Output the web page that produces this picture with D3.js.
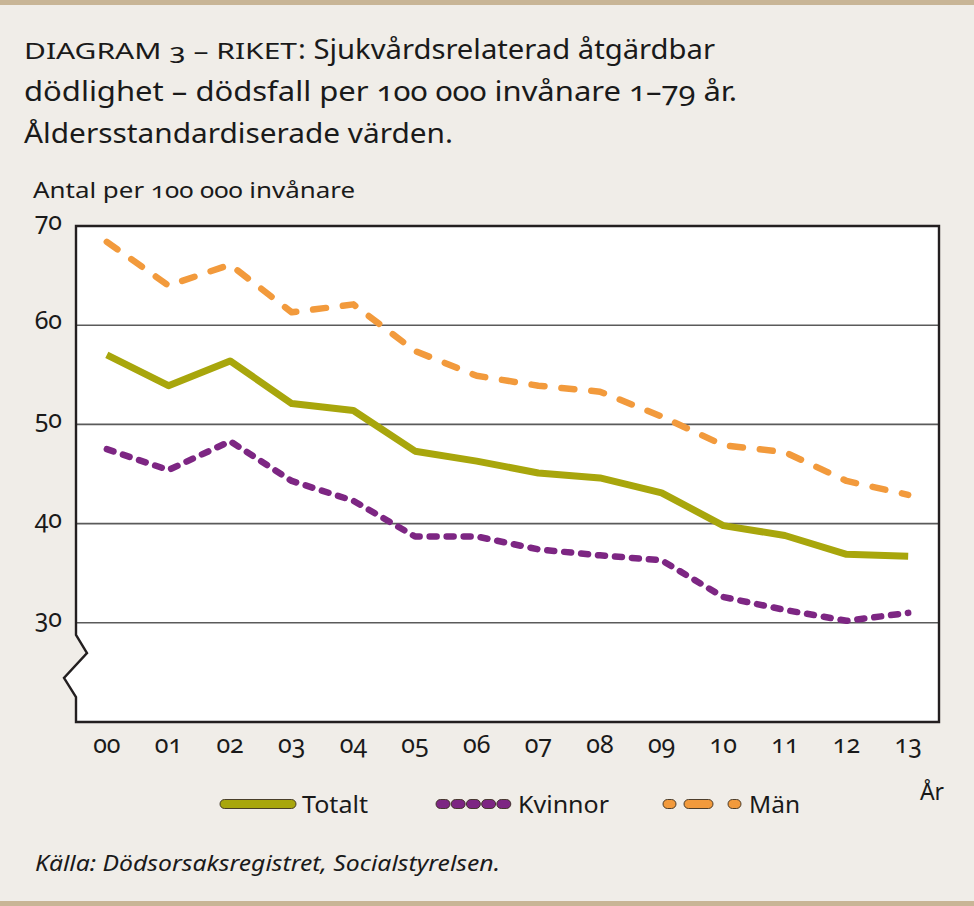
<!DOCTYPE html>
<html><head><meta charset="utf-8">
<script src="https://cdn.jsdelivr.net/npm/d3@7"></script>
<style>
html,body{margin:0;padding:0;background:#f0ede8;}
svg{display:block;}
text{font-family:"Noto Sans","Open Sans",sans-serif;fill:#1a1a1a;font-variant-numeric:oldstyle-nums;}
</style></head><body>
<svg id="c" width="974" height="906"></svg>
<script>
const years = ["00","01","02","03","04","05","06","07","08","09","10","11","12","13"];
const totalt  = [57.0,53.9,56.4,52.1,51.4,47.3,46.3,45.1,44.6,43.1,39.8,38.8,36.9,36.7];
const kvinnor = [47.5,45.4,48.3,44.3,42.3,38.7,38.7,37.4,36.8,36.3,32.6,31.3,30.2,31.0];
const man     = [68.4,64.0,66.1,61.3,62.1,57.4,54.9,53.9,53.3,50.8,47.9,47.2,44.3,42.9];
const yTicks = [30,40,50,60,70];
const seriesNames = ["Totalt","Kvinnor","Män"];

const svg = d3.select("#c");
const W=974,H=906;
svg.append("rect").attr("width",W).attr("height",H).attr("fill","#f0ede8");
svg.append("rect").attr("x",0).attr("y",0).attr("width",W).attr("height",5).attr("fill","#c8b596");
svg.append("rect").attr("x",0).attr("y",901).attr("width",W).attr("height",5).attr("fill","#c8b596");

// Title
const t = svg.append("g");
t.append("text").attr("x",24).attr("y",59).attr("font-size",22)
 .attr("textLength",273).attr("lengthAdjust","spacingAndGlyphs").text("DIAGRAM 3 – RIKET");
t.append("text").attr("x",298).attr("y",59).attr("font-size",28)
 .attr("textLength",417).attr("lengthAdjust","spacingAndGlyphs").text(": Sjukvårdsrelaterad åtgärdbar");
t.append("text").attr("x",24).attr("y",101).attr("font-size",28)
 .attr("textLength",713).attr("lengthAdjust","spacingAndGlyphs")
 .text("dödlighet – dödsfall per 100 000 invånare 1–79 år.");
t.append("text").attr("x",24).attr("y",143).attr("font-size",28)
 .attr("textLength",429).attr("lengthAdjust","spacingAndGlyphs")
 .text("Åldersstandardiserade värden.");

svg.append("text").attr("x",33).attr("y",198).attr("font-size",22)
 .attr("textLength",322).attr("lengthAdjust","spacingAndGlyphs")
 .text("Antal per 100 000 invånare");

const L=76,R=939,T=226,B=722;
const x = d3.scalePoint().domain(years).range([L,R]).padding(0.5);
const y = d3.scaleLinear().domain([20,70]).range([B,T]);

// plot area with axis break on left
const brk = [[L,T],[R,T],[R,B],[L,B],[L,697],[64,678],[87,653],[L,635]];
svg.append("path").attr("d","M"+brk.map(p=>p.join(",")).join("L")+"Z").attr("fill","#ffffff");

// gridlines
svg.append("g").selectAll("line").data(yTicks.filter(v=>v<70)).join("line")
 .attr("x1",L).attr("x2",R).attr("y1",d=>y(d)).attr("y2",d=>y(d))
 .attr("stroke","#5a5a5a").attr("stroke-width",1.6);

// frame
svg.append("path").attr("d","M"+brk.map(p=>p.join(",")).join("L")+"Z")
 .attr("fill","none").attr("stroke","#231f20").attr("stroke-width",2.4).attr("stroke-linejoin","miter");

// y tick labels
svg.append("g").selectAll("text").data(yTicks).join("text")
 .attr("x",62).attr("y",d=>y(d)+4).attr("text-anchor","end").attr("font-size",25).text(d=>d);

// x tick labels
svg.append("g").selectAll("text").data(years).join("text")
 .attr("x",d=>x(d)).attr("y",753).attr("text-anchor","middle").attr("font-size",25).text(d=>d);

svg.append("text").attr("x",932).attr("y",800).attr("text-anchor","middle").attr("font-size",23).text("År");

const line = d3.line().x((d,i)=>x(years[i])).y(d=>y(d));
const styles = [
 {data:totalt,color:"#a8a60c",w:7,dash:null},
 {data:kvinnor,color:"#7d2683",w:6.5,dash:"7,10"},
 {data:man,color:"#f29a3c",w:6.5,dash:"13,17"}
];
// draw in order: Män, Totalt, Kvinnor
[2,0,1].forEach(i=>{
 const s=styles[i];
 svg.append("path").datum(s.data).attr("d",line).attr("fill","none")
  .attr("stroke",s.color).attr("stroke-width",s.w)
  .attr("stroke-linecap",s.dash?"round":"butt").attr("stroke-linejoin","round")
  .attr("stroke-dasharray",s.dash);
});

// legend
const lg = svg.append("g");
function pill(x0,x1,cy,color){
 lg.append("rect").attr("x",x0).attr("y",cy-4.5).attr("width",x1-x0).attr("height",9).attr("rx",4.5)
  .attr("fill",color).attr("stroke","#3a2f20").attr("stroke-width",0.9);
}
const ly=804;
pill(220,296,ly,styles[0].color);
lg.append("text").attr("x",302).attr("y",ly+9).attr("font-size",24).attr("textLength",66).attr("lengthAdjust","spacingAndGlyphs").text(seriesNames[0]);
for(let k=0;k<5;k++) pill(436+k*15.2,450+k*15.2,ly,styles[1].color);
lg.append("text").attr("x",518).attr("y",ly+9).attr("font-size",24).attr("textLength",91).attr("lengthAdjust","spacingAndGlyphs").text(seriesNames[1]);
pill(663,676,ly,styles[2].color);
pill(684,713,ly,styles[2].color);
pill(728,741,ly,styles[2].color);
lg.append("text").attr("x",749).attr("y",ly+9).attr("font-size",24).attr("textLength",51).attr("lengthAdjust","spacingAndGlyphs").text(seriesNames[2]);

svg.append("text").attr("x",35).attr("y",871).attr("font-size",22).attr("font-style","italic")
 .attr("textLength",465).attr("lengthAdjust","spacingAndGlyphs")
 .text("Källa: Dödsorsaksregistret, Socialstyrelsen.");
</script></body></html>
